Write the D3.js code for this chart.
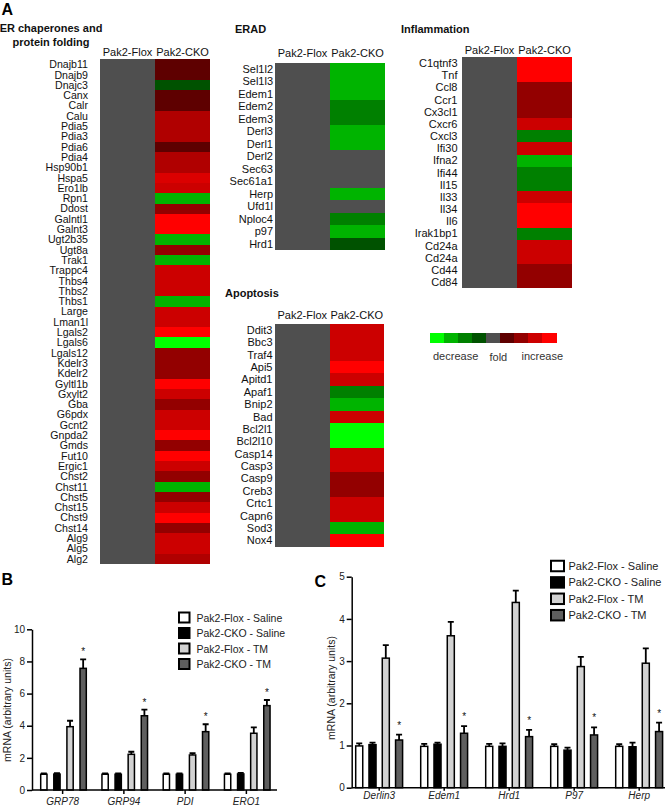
<!DOCTYPE html>
<html>
<head>
<meta charset="utf-8">
<script src="https://cdn.jsdelivr.net/npm/d3@7"></script>
<style>
  body { margin: 0; background: #fff; }
  svg { display: block; font-family: "Liberation Sans", Arial, sans-serif; }
</style>
</head>
<body>
<script>
// ---------------- DATA ----------------
const columns = ["Pak2-Flox", "Pak2-CKO"];
const floxFold = 0; // reference column (no change)

const erGenes = ["Dnajb11","Dnajb9","Dnajc3","Canx","Calr","Calu","Pdia5","Pdia3","Pdia6","Pdia4",
  "Hsp90b1","Hspa5","Ero1lb","Rpn1","Ddost","Galntl1","Galnt3","Ugt2b35","Ugt8a","Trak1",
  "Trappc4","Thbs4","Thbs2","Thbs1","Large","Lman1l","Lgals2","Lgals6","Lgals12","Kdelr3",
  "Kdelr2","Gyltl1b","Gxylt2","Gba","G6pdx","Gcnt2","Gnpda2","Gmds","Fut10","Ergic1",
  "Chst2","Chst11","Chst5","Chst15","Chst9","Chst14","Alg9","Alg5","Alg2"];
const erFold = [1,1,-1,1,1,2.5,2.5,2.5,1,2.5,
  2.5,3.3,3,-3,2,4,4,-3,2,-3,
  3,3,3,-3,3,3,4,-4,2,2,
  2,4,3,2,3,3,4,2,4,3,
  2,-3,2,3,4,2,3,3,2.5];

const eradGenes = ["Sel1l2","Sel1l3","Edem1","Edem2","Edem3","Derl3","Derl1","Derl2","Sec63","Sec61a1","Herp","Ufd1l","Nploc4","p97","Hrd1"];
const eradFold = [-3,-3,-3,-2,-2,-3,-3,0,0,0,-3,0,-2,-3,-1];

const inflGenes = ["C1qtnf3","Tnf","Ccl8","Ccr1","Cx3cl1","Cxcr6","Cxcl3","Ifi30","Ifna2","Ifi44","Il15","Il33","Il34","Il6","Irak1bp1","Cd24a","Cd24a","Cd44","Cd84"];
const inflFold = [4,4,2,2,2,3,-2,3,-3,-2,-2,3,4,4,-2,3,3,2,2];

const apopGenes = ["Ddit3","Bbc3","Traf4","Api5","Apitd1","Apaf1","Bnip2","Bad","Bcl2l1","Bcl2l10","Casp14","Casp3","Casp9","Creb3","Crtc1","Capn6","Sod3","Nox4"];
const apopFold = [3,3,3,4,3,-2,-3,3,-4,-4,3,3,2,2,3,3,-3,4];

const legendLevels = [-4,-3,-2,-1,0,1,2,3,4];
const legendWords = ["decrease","fold","increase"];

const seriesNames = ["Pak2-Flox - Saline","Pak2-CKO - Saline","Pak2-Flox - TM","Pak2-CKO - TM"];

// Panel B
const bGenes = ["GRP78","GRP94","PDI","ERO1"];
const bFloxSaline = [0.98,0.98,0.98,0.98];
const bFloxSalineErr = [0.06,0.06,0.06,0.06];
const bCkoSaline = [0.99,0.98,0.98,1.0];
const bCkoSalineErr = [0.06,0.06,0.06,0.06];
const bFloxTM = [3.94,2.22,2.18,3.53];
const bFloxTMErr = [0.37,0.16,0.12,0.37];
const bCkoTM = [7.57,4.62,3.63,5.25];
const bCkoTMErr = [0.56,0.38,0.46,0.35];
const bTicks = [0,2,4,6,8,10];

// Panel C
const cGenes = ["Derlin3","Edem1","Hrd1","P97","Herp"];
const cFloxSaline = [0.99,0.98,0.98,0.98,0.98];
const cFloxSalineErr = [0.06,0.06,0.06,0.05,0.05];
const cCkoSaline = [1.02,1.03,0.98,0.89,0.97];
const cCkoSalineErr = [0.05,0.04,0.07,0.06,0.1];
const cFloxTM = [3.07,3.6,4.39,2.87,2.95];
const cFloxTMErr = [0.31,0.33,0.28,0.23,0.35];
const cCkoTM = [1.13,1.29,1.21,1.25,1.33];
const cCkoTMErr = [0.13,0.17,0.16,0.18,0.21];
const cTicks = [0,1,2,3,4,5];

// ---------------- DRAW ----------------
const svg = d3.select("body").append("svg").attr("width", 666).attr("height", 808);

const heatColors = ["#00ff00","#00b400","#008000","#005200","#4f4f4f","#5e0000","#930000","#cc0000","#ff0000"];
const color = d3.scaleLinear().domain(legendLevels).range(heatColors).interpolate(d3.interpolateRgb);

function heatmap(cfg) {
  const g = svg.append("g");
  const y = d3.scaleBand().domain(d3.range(cfg.genes.length)).range([cfg.top, cfg.bottom]);
  const x = d3.scaleBand().domain(columns).range([cfg.left, cfg.right]);
  const rows = cfg.genes.map((gname, i) => ({gname, i, vals: [floxFold, cfg.fold[i]]}));
  const row = g.selectAll("g.row").data(rows).join("g");
  row.selectAll("rect").data(d => d.vals.map((v, j) => ({v, j, i: d.i}))).join("rect")
    .attr("x", d => x(columns[d.j]))
    .attr("y", d => y(d.i))
    .attr("width", x.bandwidth() + (d => 0)())
    .attr("height", d => d.i === cfg.genes.length - 1 ? y.bandwidth() : y.bandwidth() + 1)
    .attr("shape-rendering", "crispEdges")
    .attr("fill", d => color(d.v));
  g.selectAll("text.gene").data(rows).join("text")
    .attr("x", cfg.left - cfg.gap)
    .attr("y", d => y(d.i) + y.bandwidth() / 2 + 3.8)
    .attr("text-anchor", "end")
    .attr("font-size", cfg.labelFont || 11)
    .attr("fill", "#111")
    .text(d => d.gname);
  g.selectAll("text.head").data(columns).join("text")
    .attr("x", d => x(d) + x.bandwidth() / 2)
    .attr("y", cfg.headerY)
    .attr("text-anchor", "middle")
    .attr("font-size", 11)
    .attr("fill", "#111")
    .text(d => d);
  cfg.title.forEach((t, k) => {
    g.append("text").attr("x", t.x).attr("y", t.y)
      .attr("text-anchor", t.anchor || "start")
      .attr("font-size", 11).attr("font-weight", "bold").attr("fill", "#111")
      .text(t.text);
  });
}

// Panel letter A
svg.append("text").attr("x", 1.5).attr("y", 15).attr("font-size", 16).attr("font-weight", "bold").text("A");

heatmap({genes: erGenes, fold: erFold, left: 100, right: 210, top: 59.3, bottom: 564, gap: 12, headerY: 55.5, labelFont: 10.6,
  title: [{text: "ER chaperones and", x: 51, y: 32, anchor: "middle"}, {text: "protein folding", x: 51, y: 46, anchor: "middle"}]});
heatmap({genes: eradGenes, fold: eradFold, left: 275, right: 385, top: 62.7, bottom: 250, gap: 2, headerY: 57,
  title: [{text: "ERAD", x: 235, y: 33}]});
heatmap({genes: inflGenes, fold: inflFold, left: 462, right: 572, top: 57.3, bottom: 288.3, gap: 4.5, headerY: 54,
  title: [{text: "Inflammation", x: 401, y: 33}]});
heatmap({genes: apopGenes, fold: apopFold, left: 275, right: 384, top: 324, bottom: 546.7, gap: 2.5, headerY: 318.5,
  title: [{text: "Apoptosis", x: 225, y: 297}]});

// Color legend
(function() {
  const lx = d3.scaleBand().domain(legendLevels).range([430, 556]);
  svg.append("g").selectAll("rect").data(legendLevels).join("rect")
    .attr("x", d => lx(d)).attr("y", 333.3).attr("width", lx.bandwidth() + 0.5).attr("height", 10)
    .attr("shape-rendering", "crispEdges")
    .attr("fill", d => color(d));
  const wordX = [433, 489.5, 521.5];
  svg.append("g").selectAll("text").data(legendWords).join("text")
    .attr("x", (d, i) => wordX[i]).attr("y", (d, i) => i === 1 ? 361 : 359.5)
    .attr("font-size", 11).attr("fill", "#333").text(d => d);
})();

const seriesFill = ["#ffffff", "#000000", "#d2d2d2", "#5f5f5f"];

function barChart(cfg) {
  const g = svg.append("g");
  const x = d3.scaleBand().domain(cfg.genes).range(cfg.xRange);
  const inner = d3.scaleBand().domain(seriesNames).range(cfg.innerRange).paddingInner(cfg.innerPad);
  const y = d3.scaleLinear().domain(cfg.yDomain).range(cfg.yRange);
  const data = [];
  cfg.series.forEach((s, si) => s.vals.forEach((v, gi) => data.push({
    gene: cfg.genes[gi], s: seriesNames[si], si, v, e: s.err[gi], star: !!s.star
  })));

  // error bars
  g.selectAll("path.err").data(data).join("path")
    .attr("d", d => {
      const cx = x(d.gene) + inner(d.s) + inner.bandwidth() / 2;
      const y1 = y(d.v), y2 = y(d.v + d.e);
      return `M${cx},${y1}V${y2}M${cx - 3},${y2}H${cx + 3}`;
    })
    .attr("stroke", "#000").attr("stroke-width", 1.8).attr("fill", "none");

  // bars
  g.selectAll("rect.bar").data(data).join("rect")
    .attr("x", d => x(d.gene) + inner(d.s))
    .attr("y", d => y(d.v))
    .attr("width", inner.bandwidth())
    .attr("height", d => y(0) - y(d.v))
    .attr("fill", d => seriesFill[d.si])
    .attr("stroke", "#000").attr("stroke-width", 1.5);

  // asterisks
  g.selectAll("text.star").data(data.filter(d => d.star)).join("text")
    .attr("x", d => x(d.gene) + inner(d.s) + inner.bandwidth() / 2)
    .attr("y", d => y(d.v + d.e) - cfg.starGap)
    .attr("text-anchor", "middle").attr("font-size", 10).attr("fill", "#111").text("*");

  // y axis
  const ya = g.append("g").attr("transform", `translate(${cfg.axisX},0)`)
    .call(d3.axisLeft(y).tickValues(cfg.ticks).tickFormat(d3.format("d")).tickSize(5).tickPadding(2).tickSizeOuter(0));
  ya.select(".domain").attr("stroke-width", 1.5);
  ya.selectAll(".tick line").attr("stroke-width", 1.5);
  ya.selectAll("text").attr("font-size", 10).attr("fill", "#222").attr("font-family", "Liberation Sans, Arial, sans-serif");

  // x axis
  const xa = g.append("g").attr("transform", `translate(0,${y(0)})`)
    .call(d3.axisBottom(x).tickSize(cfg.xTick).tickPadding(cfg.xPad));
  xa.select(".domain").remove();
  xa.selectAll(".tick line").attr("stroke-width", 1.5);
  xa.selectAll("text").attr("font-size", 10).attr("font-style", "italic").attr("fill", "#222")
    .attr("font-family", "Liberation Sans, Arial, sans-serif");
  g.append("line").attr("x1", cfg.axisX).attr("x2", cfg.axisEnd).attr("y1", y(0)).attr("y2", y(0))
    .attr("stroke", "#000").attr("stroke-width", 1.5);

  // y title
  g.append("text").attr("transform", `translate(${cfg.titleX},${cfg.titleY}) rotate(-90)`)
    .attr("text-anchor", "middle").attr("dominant-baseline", "central")
    .attr("font-size", 10.5).attr("fill", "#222").text("mRNA (arbitrary units)");

  // legend
  const lg = g.append("g");
  seriesNames.forEach((n, i) => {
    const cy = cfg.legY + i * cfg.legStep;
    lg.append("rect").attr("x", cfg.legX).attr("y", cy - cfg.legH / 2).attr("width", cfg.legW).attr("height", cfg.legH)
      .attr("fill", seriesFill[i]).attr("stroke", "#000").attr("stroke-width", 2);
    lg.append("text").attr("x", cfg.legTextX).attr("y", cy + 4).attr("font-size", cfg.legFont)
      .attr("fill", "#222").text(n);
  });

  // panel letter
  svg.append("text").attr("x", cfg.letterX).attr("y", cfg.letterY).attr("font-size", 16)
    .attr("font-weight", "bold").text(cfg.letter);
}

barChart({
  genes: bGenes,
  series: [
    {vals: bFloxSaline, err: bFloxSalineErr},
    {vals: bCkoSaline, err: bCkoSalineErr},
    {vals: bFloxTM, err: bFloxTMErr},
    {vals: bCkoTM, err: bCkoTMErr, star: true}
  ],
  xRange: [32, 277], innerRange: [8.7, 54.3], innerPad: 0.52,
  yDomain: [0, 10], yRange: [790, 629.3], ticks: bTicks,
  axisX: 32, axisEnd: 277, xTick: 4, xPad: 4, starGap: 4,
  titleX: 6.5, titleY: 710,
  legX: 179, legW: 10.5, legH: 10, legY: 617.5, legStep: 15.5, legTextX: 196.5, legFont: 10.5,
  letter: "B", letterX: 1.5, letterY: 585
});

barChart({
  genes: cGenes,
  series: [
    {vals: cFloxSaline, err: cFloxSalineErr},
    {vals: cCkoSaline, err: cCkoSalineErr},
    {vals: cFloxTM, err: cFloxTMErr},
    {vals: cCkoTM, err: cCkoTMErr, star: true}
  ],
  xRange: [346.7, 671.7], innerRange: [9, 55.9], innerPad: 0.47,
  yDomain: [0, 5], yRange: [787.7, 576.7], ticks: cTicks,
  axisX: 351.7, axisEnd: 665, xTick: 3, xPad: 1, starGap: 6,
  titleX: 331, titleY: 688,
  legX: 551, legW: 13, legH: 10.5, legY: 566, legStep: 16.4, legTextX: 568.5, legFont: 11,
  letter: "C", letterX: 314.5, letterY: 587
});
</script>
</body>
</html>
